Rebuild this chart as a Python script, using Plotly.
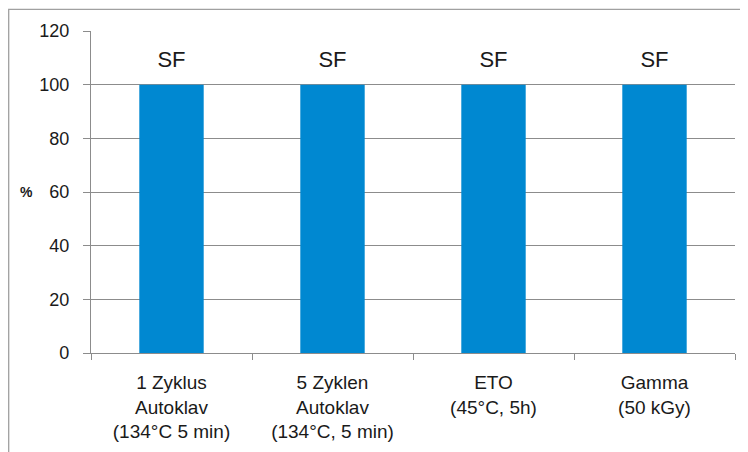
import plotly.graph_objects as go

categories = ["1 Zyklus<br>Autoklav<br>(134°C 5 min)", "5 Zyklen<br>Autoklav<br>(134°C, 5 min)",
              "ETO<br>(45°C, 5h)", "Gamma<br>(50 kGy)"]
values = [100, 100, 100, 100]
bar_labels = ["SF", "SF", "SF", "SF"]
label_y = [108.5, 108.5, 108.5, 108.5]
y_ticks = [0, 20, 40, 60, 80, 100, 120]

font = "Liberation Sans, Arial, sans-serif"
fig = go.Figure()
fig.add_trace(go.Bar(x=categories, y=values, marker=dict(color="#0088D1", line=dict(width=0)), width=0.4))
fig.add_trace(go.Scatter(x=categories, y=label_y, mode="text", text=bar_labels,
                         textposition="middle center", textfont=dict(size=22, color="#1a1a1a", family=font)))
fig.update_layout(
    width=748, height=452, showlegend=False,
    margin=dict(l=83, r=21, t=23, b=107),
    paper_bgcolor="white", plot_bgcolor="white",
    font=dict(family=font, color="#1a1a1a", size=15),
    xaxis=dict(showline=True, linecolor="#8c8c8c", linewidth=1.3, ticks="outside", tickson="boundaries",
               ticklen=6, tickcolor="#8c8c8c", showgrid=False, tickfont=dict(size=19),
               ticklabelstandoff=12),
    yaxis=dict(range=[0, 120], tickvals=y_ticks, showline=True, linecolor="#8c8c8c", linewidth=1.3,
               ticks="outside", ticklen=7, tickcolor="#8c8c8c", showgrid=True, gridcolor="#8c8c8c",
               gridwidth=1.3, zeroline=False, tickfont=dict(size=18), ticklabelstandoff=10),
    annotations=[dict(text="<b>%</b>", x=-0.0994, y=60, xref="paper", yref="y", showarrow=False,
                      font=dict(size=14, color="#1a1a1a"), xanchor="center", yanchor="middle")],
    shapes=[dict(type="rect", xref="paper", yref="paper", x0=-0.1278, x1=1.2, y0=-0.6, y1=1.067,
                 line=dict(color="#a0a0a0", width=1.3))],
)
fig.write_html("out.html")
